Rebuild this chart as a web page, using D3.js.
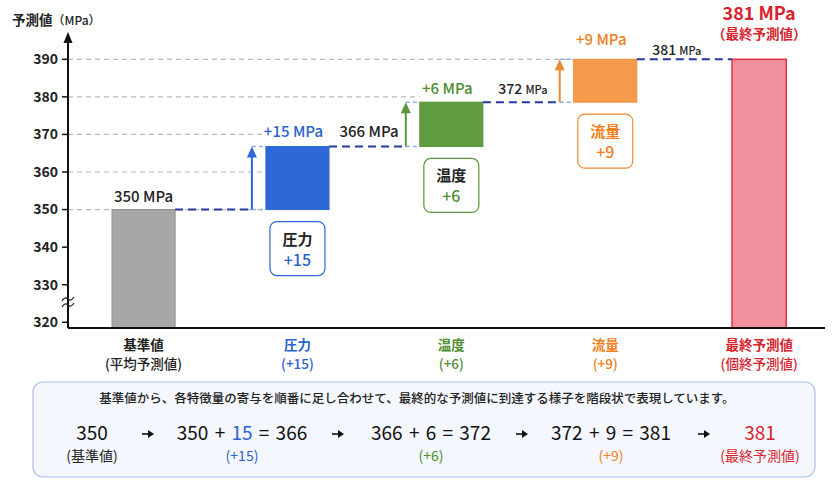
<!DOCTYPE html>
<html><head><meta charset="utf-8">
<script src="https://cdn.jsdelivr.net/npm/d3@7"></script>
<style>
html,body{margin:0;padding:0;background:#fff;}
svg{display:block;font-family:"Noto Sans CJK JP","Noto Sans",sans-serif;}
</style></head>
<body>
<svg id="chart" width="834" height="481"></svg>
<script>
// ---------- data ----------
const categories = ["基準値", "圧力", "温度", "流量", "最終予測値"];
const subLabels = ["(平均予測値)", "(+15)", "(+6)", "(+9)", "(個終予測値)"];
const levels = [350, 366.8, 378.6, 390];        // drawn step levels
const finalLevel = 390;                          // drawn height of final bar
const deltas = [15, 6, 9];                       // labelled contributions
const totals = [350, 366, 372, 381];             // labelled running totals
const yTicks = [320, 330, 340, 350, 360, 370, 380, 390];
const gridTicks = [350, 360, 370, 380, 390];
const summaryText = "基準値から、各特徴量の寄与を順番に足し合わせて、最終的な予測値に到達する様子を階段状で表現しています。";

// ---------- styles ----------
const fills   = ["#a7a7a7", "#2e67d6", "#5f9d40", "#f69b4c", "#f290a0"];
const strokes = ["#8f8f8f", "#2e67d6", "#5a963b", "#ef8a34", "#e1323f"];
const txtCol  = ["#222222", "#2a62d0", "#4e8e2e", "#f07f22", "#d8232e"];
const navy = "#2438a0", lightBlue = "#8fb0ea";

const svg = d3.select("#chart");
const axisX = 68, axisBottom = 328;

const x = d3.scaleBand().domain(categories).range([66.6, 836.1]).paddingInner(0.59).paddingOuter(0.295);
const y = d3.scaleLinear().domain([320, 390]).range([322.3, 59.3]);
const bw = x.bandwidth();
const finalW = bw * 0.86;

// ---------- grid ----------
gridTicks.forEach(v => {
  let idx = 1;
  while (idx < levels.length - 1 && levels[idx] < v - 4) idx++;
  svg.append("line")
    .attr("x1", axisX).attr("x2", x(categories[idx]))
    .attr("y1", y(v)).attr("y2", y(v))
    .attr("stroke", "#bcbcbc").attr("stroke-width", 1.2).attr("stroke-dasharray", "5,4");
});

// ---------- bars ----------
svg.append("rect")
  .attr("x", x(categories[0])).attr("width", bw)
  .attr("y", y(levels[0])).attr("height", axisBottom - y(levels[0]))
  .attr("fill", fills[0]).attr("stroke", strokes[0]).attr("stroke-width", 1);
for (let i = 1; i < levels.length; i++) {
  svg.append("rect")
    .attr("x", x(categories[i])).attr("width", bw)
    .attr("y", y(levels[i])).attr("height", y(levels[i - 1]) - y(levels[i]))
    .attr("fill", fills[i]).attr("stroke", strokes[i]).attr("stroke-width", 1);
}
const fc = x(categories[4]) + bw / 2;
svg.append("rect")
  .attr("x", fc - finalW / 2).attr("width", finalW)
  .attr("y", y(finalLevel)).attr("height", axisBottom - y(finalLevel))
  .attr("fill", fills[4]).attr("stroke", strokes[4]).attr("stroke-width", 1.5);

// ---------- connectors & arrows ----------
for (let i = 1; i < levels.length; i++) {
  const prevRight = x(categories[i - 1]) + bw;
  const left = x(categories[i]);
  const ax = left - 14;
  const y0 = y(levels[i - 1]), y1 = y(levels[i]);
  svg.append("line").attr("x1", prevRight).attr("x2", ax).attr("y1", y0).attr("y2", y0)
    .attr("stroke", navy).attr("stroke-width", 2).attr("stroke-dasharray", "8,5");
  svg.append("line").attr("x1", ax).attr("x2", left).attr("y1", y0).attr("y2", y0)
    .attr("stroke", lightBlue).attr("stroke-width", 1.5).attr("stroke-dasharray", "4,3");
  svg.append("line").attr("x1", ax).attr("x2", left).attr("y1", y1).attr("y2", y1)
    .attr("stroke", lightBlue).attr("stroke-width", 1.5).attr("stroke-dasharray", "4,3");
  svg.append("line").attr("x1", ax).attr("x2", ax).attr("y1", y0).attr("y2", y1 + 9)
    .attr("stroke", strokes[i]).attr("stroke-width", 2);
  svg.append("path")
    .attr("d", `M${ax},${y1} L${ax - 5},${y1 + 11} L${ax + 5},${y1 + 11} Z`)
    .attr("fill", strokes[i]);
}
{
  const yl = y(levels[levels.length - 1]);
  svg.append("line")
    .attr("x1", x(categories[3]) + bw).attr("x2", fc - finalW / 2)
    .attr("y1", yl).attr("y2", yl)
    .attr("stroke", navy).attr("stroke-width", 2).attr("stroke-dasharray", "8,5");
}

// ---------- axes ----------
const yAxisG = svg.append("g");
yAxisG.append("line").attr("x1", axisX).attr("x2", axisX).attr("y1", axisBottom).attr("y2", 40)
  .attr("stroke", "#111").attr("stroke-width", 2);
yAxisG.append("path").attr("d", `M${axisX},32 L${axisX - 4.5},43 L${axisX + 4.5},43 Z`).attr("fill", "#111");
yTicks.forEach(t => {
  yAxisG.append("line").attr("x1", axisX - 6).attr("x2", axisX).attr("y1", y(t)).attr("y2", y(t))
    .attr("stroke", "#111").attr("stroke-width", 1.5);
  yAxisG.append("text").attr("x", axisX - 10).attr("y", y(t)).attr("dy", "0.35em")
    .attr("text-anchor", "end").attr("font-size", 14).attr("font-weight", 600).attr("fill", "#222")
    .text(t);
});
[-3, 3].forEach(o => {
  svg.append("path")
    .attr("d", `M${axisX - 6},${302 + o + 2} q3,-5 6,-2 q3,3 6,-2`)
    .attr("fill", "none").attr("stroke", "#222").attr("stroke-width", 1.2);
});
svg.append("line").attr("x1", axisX).attr("x2", 825).attr("y1", axisBottom).attr("y2", axisBottom)
  .attr("stroke", "#111").attr("stroke-width", 2);

const yt = svg.append("text").attr("x", 12).attr("y", 25).attr("fill", "#222");
yt.append("tspan").attr("font-size", 13.5).attr("font-weight", 600).text("予測値");
yt.append("tspan").attr("font-size", 12).attr("font-weight", 500).text("（MPa）");

categories.forEach((c, i) => {
  const cx = x(c) + bw / 2;
  svg.append("text").attr("x", cx).attr("y", 350).attr("text-anchor", "middle")
    .attr("font-size", 13.5).attr("font-weight", 600).attr("fill", txtCol[i]).text(c);
  svg.append("text").attr("x", cx).attr("y", 369).attr("text-anchor", "middle")
    .attr("font-size", 13.5).attr("font-weight", 500).attr("fill", txtCol[i]).text(subLabels[i]);
});

// ---------- value labels ----------
svg.append("text").attr("x", x(categories[0]) + bw / 2).attr("y", y(levels[0]) - 8)
  .attr("text-anchor", "middle").attr("font-size", 15).attr("font-weight", 500).attr("fill", "#222")
  .text(`${totals[0]} MPa`);

const deltaGap = [9, 8, 14];
const totalSmall = [false, true, true];
const totalGap = [9, 8, 4];
for (let i = 1; i < levels.length; i++) {
  const cx = x(categories[i]) + bw / 2;
  const right = x(categories[i]) + bw;
  const yTop = y(levels[i]);
  svg.append("text").attr("x", cx - 4).attr("y", yTop - deltaGap[i - 1])
    .attr("text-anchor", "middle").attr("font-size", 15).attr("font-weight", 500).attr("fill", txtCol[i])
    .text(`+${deltas[i - 1]} MPa`);
  const tt = svg.append("text").attr("x", right + 40).attr("y", yTop - totalGap[i - 1])
    .attr("text-anchor", "middle").attr("fill", "#222").attr("font-weight", 500);
  tt.append("tspan").attr("font-size", totalSmall[i - 1] ? 14 : 15).text(`${totals[i]} `);
  tt.append("tspan").attr("font-size", totalSmall[i - 1] ? 11 : 15).text("MPa");

  const bTop = y(levels[i - 1]) + 12;
  svg.append("rect").attr("x", cx - 27.5).attr("y", bTop).attr("width", 55).attr("height", 54)
    .attr("rx", 7).attr("fill", "#fff").attr("stroke", strokes[i]).attr("stroke-width", 1.2);
  svg.append("text").attr("x", cx).attr("y", bTop + 23).attr("text-anchor", "middle")
    .attr("font-size", 15).attr("font-weight", 600).attr("fill", i === 3 ? txtCol[i] : "#222")
    .text(categories[i]);
  svg.append("text").attr("x", cx).attr("y", bTop + 44).attr("text-anchor", "middle")
    .attr("font-size", 16).attr("font-weight", 500).attr("fill", txtCol[i])
    .text(`+${deltas[i - 1]}`);
}
svg.append("text").attr("x", fc).attr("y", 20).attr("text-anchor", "middle")
  .attr("font-size", 18).attr("font-weight", 600).attr("fill", txtCol[4])
  .text(`${totals[3]} MPa`);
svg.append("text").attr("x", fc).attr("y", 39).attr("text-anchor", "middle")
  .attr("font-size", 13.5).attr("font-weight", 600).attr("fill", txtCol[4])
  .text("（最終予測値）");

// ---------- summary box ----------
svg.append("rect").attr("x", 33).attr("y", 382).attr("width", 782).attr("height", 95).attr("rx", 10)
  .attr("fill", "#f4f7fd").attr("stroke", "#a8bfee").attr("stroke-width", 1.2);
svg.append("text").attr("x", 417).attr("y", 403).attr("text-anchor", "middle")
  .attr("font-size", 12.5).attr("font-weight", 500).attr("fill", "#222").text(summaryText);

const itemX = [92, 242, 431, 611, 760];
const arrowX = [148, 338, 522, 704];
const rowY = 440, subY = 461;
svg.append("text").attr("x", itemX[0]).attr("y", rowY).attr("text-anchor", "middle")
  .attr("font-size", 19).attr("fill", "#111").text(totals[0]);
svg.append("text").attr("x", itemX[0]).attr("y", subY).attr("text-anchor", "middle")
  .attr("font-size", 14).attr("fill", "#222").text("(基準値)");
for (let i = 1; i <= 3; i++) {
  const t = svg.append("text").attr("x", itemX[i]).attr("y", rowY).attr("text-anchor", "middle")
    .attr("font-size", 19).attr("word-spacing", 2).attr("fill", "#111");
  t.append("tspan").text(`${totals[i - 1]} + `);
  t.append("tspan").attr("fill", i === 1 ? txtCol[1] : "#111").text(deltas[i - 1]);
  t.append("tspan").text(` = ${totals[i]}`);
  svg.append("text").attr("x", itemX[i]).attr("y", subY).attr("text-anchor", "middle")
    .attr("font-size", 14).attr("fill", txtCol[i]).text(subLabels[i]);
}
svg.append("text").attr("x", itemX[4]).attr("y", rowY).attr("text-anchor", "middle")
  .attr("font-size", 19).attr("fill", txtCol[4]).text(totals[3]);
svg.append("text").attr("x", itemX[4]).attr("y", subY).attr("text-anchor", "middle")
  .attr("font-size", 14).attr("fill", txtCol[4]).text("(最終予測値)");
arrowX.forEach(ax => {
  svg.append("line").attr("x1", ax - 6).attr("x2", ax + 2).attr("y1", 434).attr("y2", 434)
    .attr("stroke", "#111").attr("stroke-width", 1.6);
  svg.append("path").attr("d", `M${ax + 6},434 L${ax},430 L${ax},438 Z`).attr("fill", "#111");
});
</script>
</body></html>
